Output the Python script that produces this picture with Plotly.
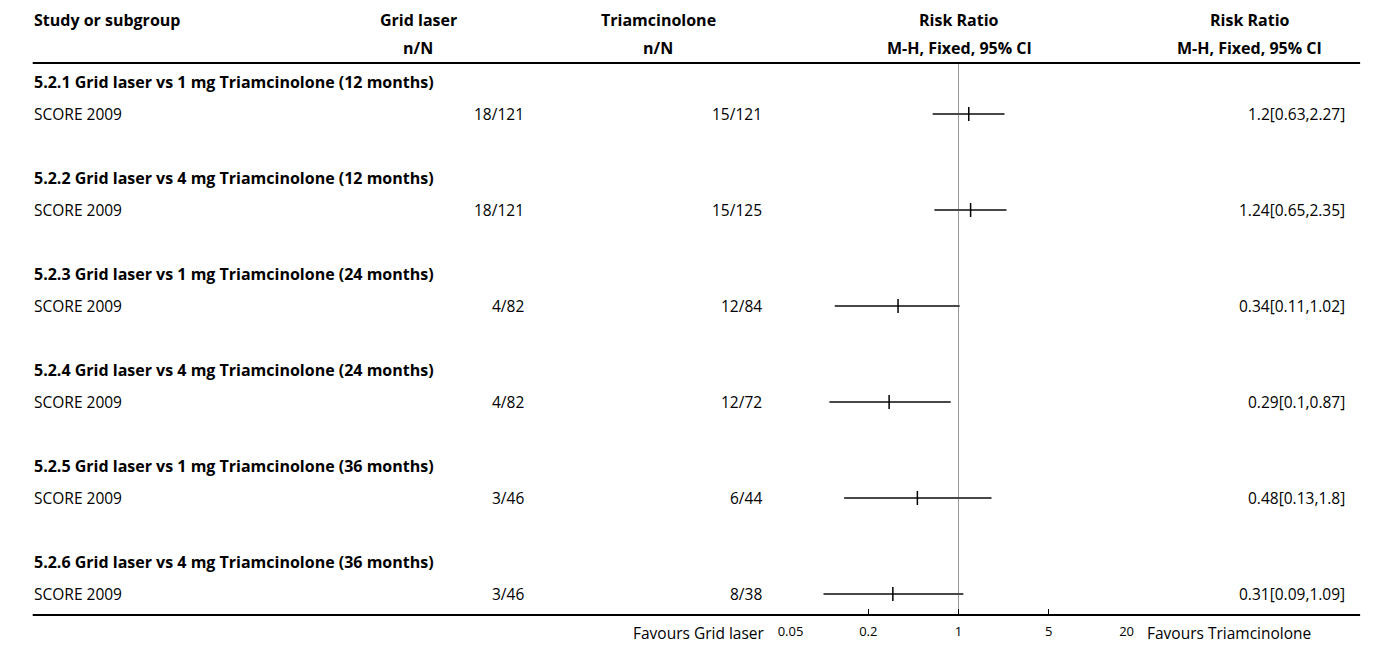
import math
import plotly.graph_objects as go

# Subgroup headings and the single study in each
subgroups = [
    "5.2.1 Grid laser vs 1 mg Triamcinolone (12 months)",
    "5.2.2 Grid laser vs 4 mg Triamcinolone (12 months)",
    "5.2.3 Grid laser vs 1 mg Triamcinolone (24 months)",
    "5.2.4 Grid laser vs 4 mg Triamcinolone (24 months)",
    "5.2.5 Grid laser vs 1 mg Triamcinolone (36 months)",
    "5.2.6 Grid laser vs 4 mg Triamcinolone (36 months)",
]
studies = ["SCORE 2009"] * 6
grid_laser = ["18/121", "18/121", "4/82", "4/82", "3/46", "3/46"]
triamcinolone = ["15/121", "15/125", "12/84", "12/72", "6/44", "8/38"]
rr = [1.2, 1.24, 0.34, 0.29, 0.48, 0.31]
ci_low = [0.63, 0.65, 0.11, 0.1, 0.13, 0.09]
ci_high = [2.27, 2.35, 1.02, 0.87, 1.8, 1.09]

tick_vals = [0.05, 0.2, 1, 5, 20]
tick_text = ["0.05", "0.2", "1", "5", "20"]

FONT = "Open Sans"
REG, BOLD = 15.5, 16
W, H = 1375, 646
TOP_LINE, AXIS_LINE = 63, 615      # pixel rows of the table rules
ROW0, ROW_H = 82, 32               # first row centre and row pitch

def px(x):
    return x / W

# each subgroup occupies three rows: heading, study, spacer
head_rows = [3 * i for i in range(len(subgroups))]
study_rows = [3 * i + 1 for i in range(len(subgroups))]

y_bottom = (AXIS_LINE - ROW0) / ROW_H
y_top = (TOP_LINE - ROW0) / ROW_H

fig = go.Figure()

# confidence interval whiskers
xs, ys = [], []
for lo, hi, r in zip(ci_low, ci_high, study_rows):
    xs += [lo, hi, None]
    ys += [r, r, None]
fig.add_trace(go.Scatter(
    x=xs, y=ys, mode="lines",
    line=dict(color="#484848", width=1.8),
    hoverinfo="skip", showlegend=False,
))

# point estimates
fig.add_trace(go.Scatter(
    x=rr, y=study_rows, mode="markers",
    marker=dict(symbol="line-ns", size=10, line=dict(color="black", width=1.5)),
    showlegend=False,
))

ann = []

def text(x, y, s, anchor="left", bold=False, size=None, yref="y"):
    ann.append(dict(
        x=px(x), xref="paper", y=y, yref=yref,
        text=f"<b>{s}</b>" if bold else s,
        showarrow=False, xanchor=anchor, yanchor="middle", borderpad=0,
        font=dict(family=FONT, size=size or (BOLD if bold else REG), color="black"),
    ))

# column headers (paper y given in pixels from the top)
def hy(p):
    return 1 - p / H

text(20, hy(20), "Study or subgroup", bold=True, yref="paper")
text(411, hy(20), "Grid laser", "center", True, yref="paper")
text(411, hy(48), "n/N", "center", True, yref="paper")
text(655, hy(20), "Triamcinolone", "center", True, yref="paper")
text(655, hy(48), "n/N", "center", True, yref="paper")
text(960, hy(20), "Risk Ratio", "center", True, yref="paper")
text(960, hy(48), "M-H, Fixed, 95% CI", "center", True, yref="paper")
text(1255, hy(20), "Risk Ratio", "center", True, yref="paper")
text(1255, hy(48), "M-H, Fixed, 95% CI", "center", True, yref="paper")

for i in range(len(subgroups)):
    text(20, head_rows[i], subgroups[i], bold=True)
    text(20, study_rows[i], studies[i])
    text(520, study_rows[i], grid_laser[i], "right")
    text(761, study_rows[i], triamcinolone[i], "right")
    text(1353, study_rows[i], f"{rr[i]}[{ci_low[i]},{ci_high[i]}]", "right")

text(764, hy(633), "Favours Grid laser", "right", yref="paper")
text(1150, hy(633), "Favours Triamcinolone", "left", yref="paper")

fig.update_layout(
    width=W, height=H,
    margin=dict(l=0, r=0, t=0, b=0),
    paper_bgcolor="white", plot_bgcolor="white",
    annotations=ann,
    xaxis=dict(
        type="log",
        range=[math.log10(0.05), math.log10(20)],
        domain=[px(789), px(1130)],
        tickvals=tick_vals, ticktext=tick_text,
        ticks="inside", ticklen=6, tickwidth=1, tickcolor="black",
        ticklabelstandoff=7,
        tickfont=dict(family=FONT, size=13, color="black"),
        showgrid=False, zeroline=False, showline=False,
    ),
    yaxis=dict(
        range=[y_bottom, y_top],
        domain=[1 - AXIS_LINE / H, 1 - TOP_LINE / H],
        visible=False, showgrid=False, zeroline=False,
    ),
    shapes=[
        # line of no effect
        dict(type="line", xref="x", yref="y domain", x0=1, x1=1, y0=0, y1=1,
             line=dict(color="#999999", width=1), layer="below"),
        # table rules
        dict(type="line", xref="paper", yref="y domain",
             x0=px(20), x1=px(1367), y0=1, y1=1,
             line=dict(color="black", width=2)),
        dict(type="line", xref="paper", yref="y domain",
             x0=px(20), x1=px(1367), y0=0, y1=0,
             line=dict(color="black", width=2)),
    ],
)

fig.write_html("out.html")
